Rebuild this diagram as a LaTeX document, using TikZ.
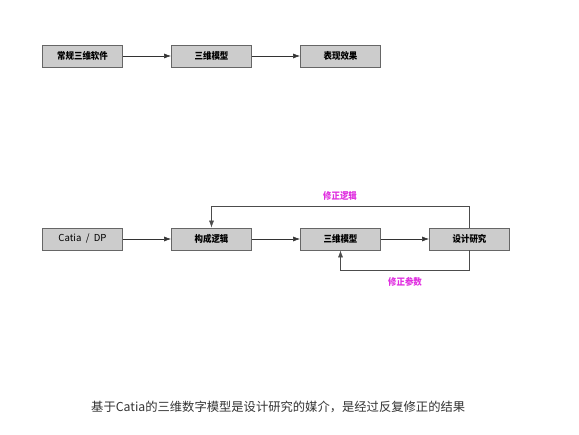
\documentclass[tikz,border=0pt]{standalone}
\usepackage{fontspec}
\newfontfamily\cjk{Noto Sans CJK SC}
\newfontfamily\cjkn[FakeStretch=0.9]{Noto Sans CJK SC}
\usetikzlibrary{arrows.meta}
\definecolor{boxfill}{HTML}{CCCCCC}
\definecolor{boxline}{HTML}{666666}
\definecolor{lbl}{HTML}{E030E0}
\definecolor{cap}{HTML}{333333}
\tikzset{
  x=1bp, y=-1bp,
  stepbox/.style={draw=boxline, line width=0.9bp, fill=boxfill, minimum width=80bp, minimum height=22bp, inner sep=0pt, font=\cjkn\bfseries\fontsize{9.4bp}{10bp}\selectfont},
  conn/.style={draw=black!80, line width=0.6bp, -{Latex[length=7bp,width=5bp]}},
  fb/.style={draw=black!70, line width=0.5bp, -{Latex[length=7bp,width=5bp]}},
  lab/.style={text=lbl, font=\cjkn\bfseries\fontsize{9.4bp}{10bp}\selectfont, inner sep=0pt},
}
\begin{document}
\begin{tikzpicture}
\useasboundingbox (0,0) rectangle (579,435);
% top row
\node[stepbox] (a1) at (82.5,56) {常规三维软件};
\node[stepbox] (a2) at (211.5,56) {三维模型};
\node[stepbox] (a3) at (340.5,56) {表现效果};
\draw[conn] (a1) -- (a2);
\draw[conn] (a2) -- (a3);
% second row
\node[stepbox, font=\cjk\fontsize{9.6bp}{10bp}\selectfont] (b1) at (82.5,239) {Catia\ \ /\ \ DP};
\node[stepbox] (b2) at (211.5,239) {构成逻辑};
\node[stepbox] (b3) at (340.5,239) {三维模型};
\node[stepbox] (b4) at (469.5,239) {设计研究};
\draw[conn] (b1) -- (b2);
\draw[conn] (b2) -- (b3);
\draw[conn] (b3) -- (b4);
\coordinate (t1) at (469.5,206.5);
\coordinate (t2) at (211.5,206.5);
\coordinate (u1) at (469.5,270.5);
\coordinate (u2) at (340.5,270.5);
\draw[fb] (b4.north) -- (t1) -- (t2) -- (b2.north);
\draw[fb] (b4.south) -- (u1) -- (u2) -- (b3.south);
\node[lab] (l1) at (340,196) {修正逻辑};
\node[lab] (l2) at (405,282) {修正参数};
\node[text=cap, font=\cjk\fontsize{12.3bp}{14bp}\selectfont, inner sep=0pt, anchor=west] (capt) at (91,407) {基于Catia的三维数字模型是设计研究的媒介，是经过反复修正的结果};
\end{tikzpicture}
\end{document}
